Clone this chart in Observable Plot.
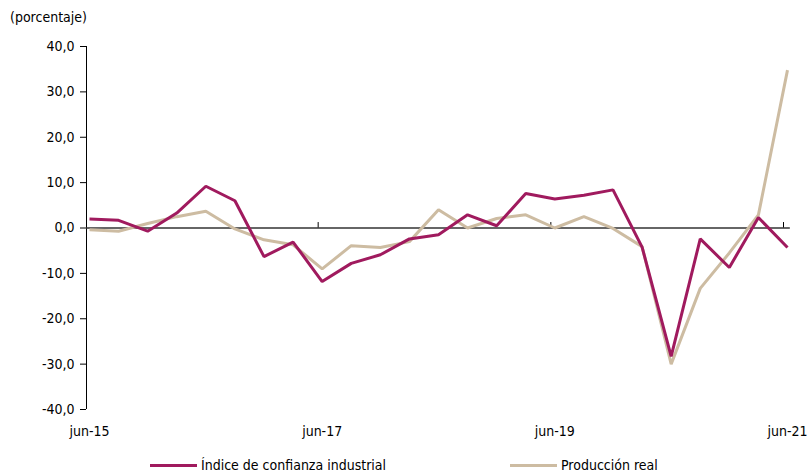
<!DOCTYPE html>
<html>
<head>
<meta charset="utf-8">
<script src="https://cdn.jsdelivr.net/npm/d3@7"></script>
<script src="https://cdn.jsdelivr.net/npm/@observablehq/plot@0.6"></script>
<style>
  body { margin: 0; background: #fff; font-family: "Liberation Sans Narrow", "DejaVu Sans Condensed", "Liberation Sans", sans-serif; color: #000; }
  #wrap { position: relative; width: 811px; height: 476px; }
  #title { position: absolute; left: 10px; top: 9px; font-size: 14px; }
  #chart { position: absolute; left: 0; top: 30px; }
  #legend { position: absolute; left: 0; top: 457px; width: 811px; height: 18px; font-size: 14px; }
  .item { position: absolute; top: 0; display: flex; align-items: center; }
  .sw { width: 47px; height: 3px; margin-right: 4px; }
</style>
</head>
<body>
<div id="wrap">
  <div id="title">(porcentaje)</div>
  <div id="chart"></div>
  <div id="legend">
    <div class="item" style="left:150px"><div class="sw" style="background:#A01A5E"></div><span>Índice de confianza industrial</span></div>
    <div class="item" style="left:510px"><div class="sw" style="background:#CDBCA2"></div><span>Producción real</span></div>
  </div>
</div>
<script>
const periods = ["jun-15","sep-15","dic-15","mar-16","jun-16","sep-16","dic-16","mar-17","jun-17","sep-17","dic-17","mar-18","jun-18","sep-18","dic-18","mar-19","jun-19","sep-19","dic-19","mar-20","jun-20","sep-20","dic-20","mar-21","jun-21"];
const confianza = [2.0, 1.7, -0.7, 3.3, 9.2, 6.0, -6.3, -3.1, -11.8, -7.8, -5.9, -2.4, -1.5, 2.9, 0.5, 7.6, 6.4, 7.2, 8.4, -4.2, -28.3, -2.4, -8.7, 2.3, -4.3];
const produccion = [-0.4, -0.7, 1.0, 2.5, 3.7, -0.2, -2.6, -3.7, -9.0, -3.9, -4.3, -3.0, 4.0, 0.0, 2.1, 2.9, 0.0, 2.5, -0.1, -4.1, -30.0, -13.3, -5.5, 2.9, 34.8];
const tickIdx = [0, 8, 16, 24];
const yTicks = [-40, -30, -20, -10, 0, 10, 20, 30, 40];

const rows = [];
periods.forEach((p, i) => {
  rows.push({i, v: confianza[i], s: "Índice de confianza industrial"});
  rows.push({i, v: produccion[i], s: "Producción real"});
});

const fmt = d => d.toFixed(1).replace(".", ",");
const plot = Plot.plot({
  width: 811,
  height: 420,
  marginLeft: 89,
  marginRight: 24,
  marginTop: 16,
  marginBottom: 41,
  style: {fontFamily: "'Liberation Sans Narrow', 'DejaVu Sans Condensed', 'Liberation Sans', sans-serif", fontSize: "14px", color: "#000", background: "#fff"},
  x: {domain: [0, 24]},
  y: {domain: [-40, 40]},
  color: {domain: ["Índice de confianza industrial", "Producción real"], range: ["#A01A5E", "#CDBCA2"]},
  marks: [
    Plot.axisY({ticks: yTicks, tickFormat: fmt, tickSize: 6, tickPadding: 6, dx: -3, label: null, fontSize: 14}),
    Plot.ruleX([0], {y1: -40, y2: 40, dx: -3, stroke: "#000", strokeWidth: 1}),
    Plot.axisX({ticks: tickIdx, tickFormat: i => periods[i], tickSize: 0, tickPadding: 17, label: null, fontSize: 14}),
    Plot.ruleY([0], {x1: 0, x2: 24.2, dx: -3, stroke: "#333", strokeWidth: 1.3}),
    Plot.ruleX(tickIdx.slice(1), {y1: 0, y2: 1.2, dx: -4, stroke: "#000"}),
    Plot.line(rows.filter(d => d.s === "Producción real"), {x: "i", y: "v", stroke: "s", strokeWidth: 3, strokeLinejoin: "miter", strokeLinecap: "butt"}),
    Plot.line(rows.filter(d => d.s !== "Producción real"), {x: "i", y: "v", stroke: "s", strokeWidth: 3, strokeLinejoin: "miter", strokeLinecap: "butt"})
  ]
});
document.getElementById("chart").appendChild(plot);
</script>
</body>
</html>
